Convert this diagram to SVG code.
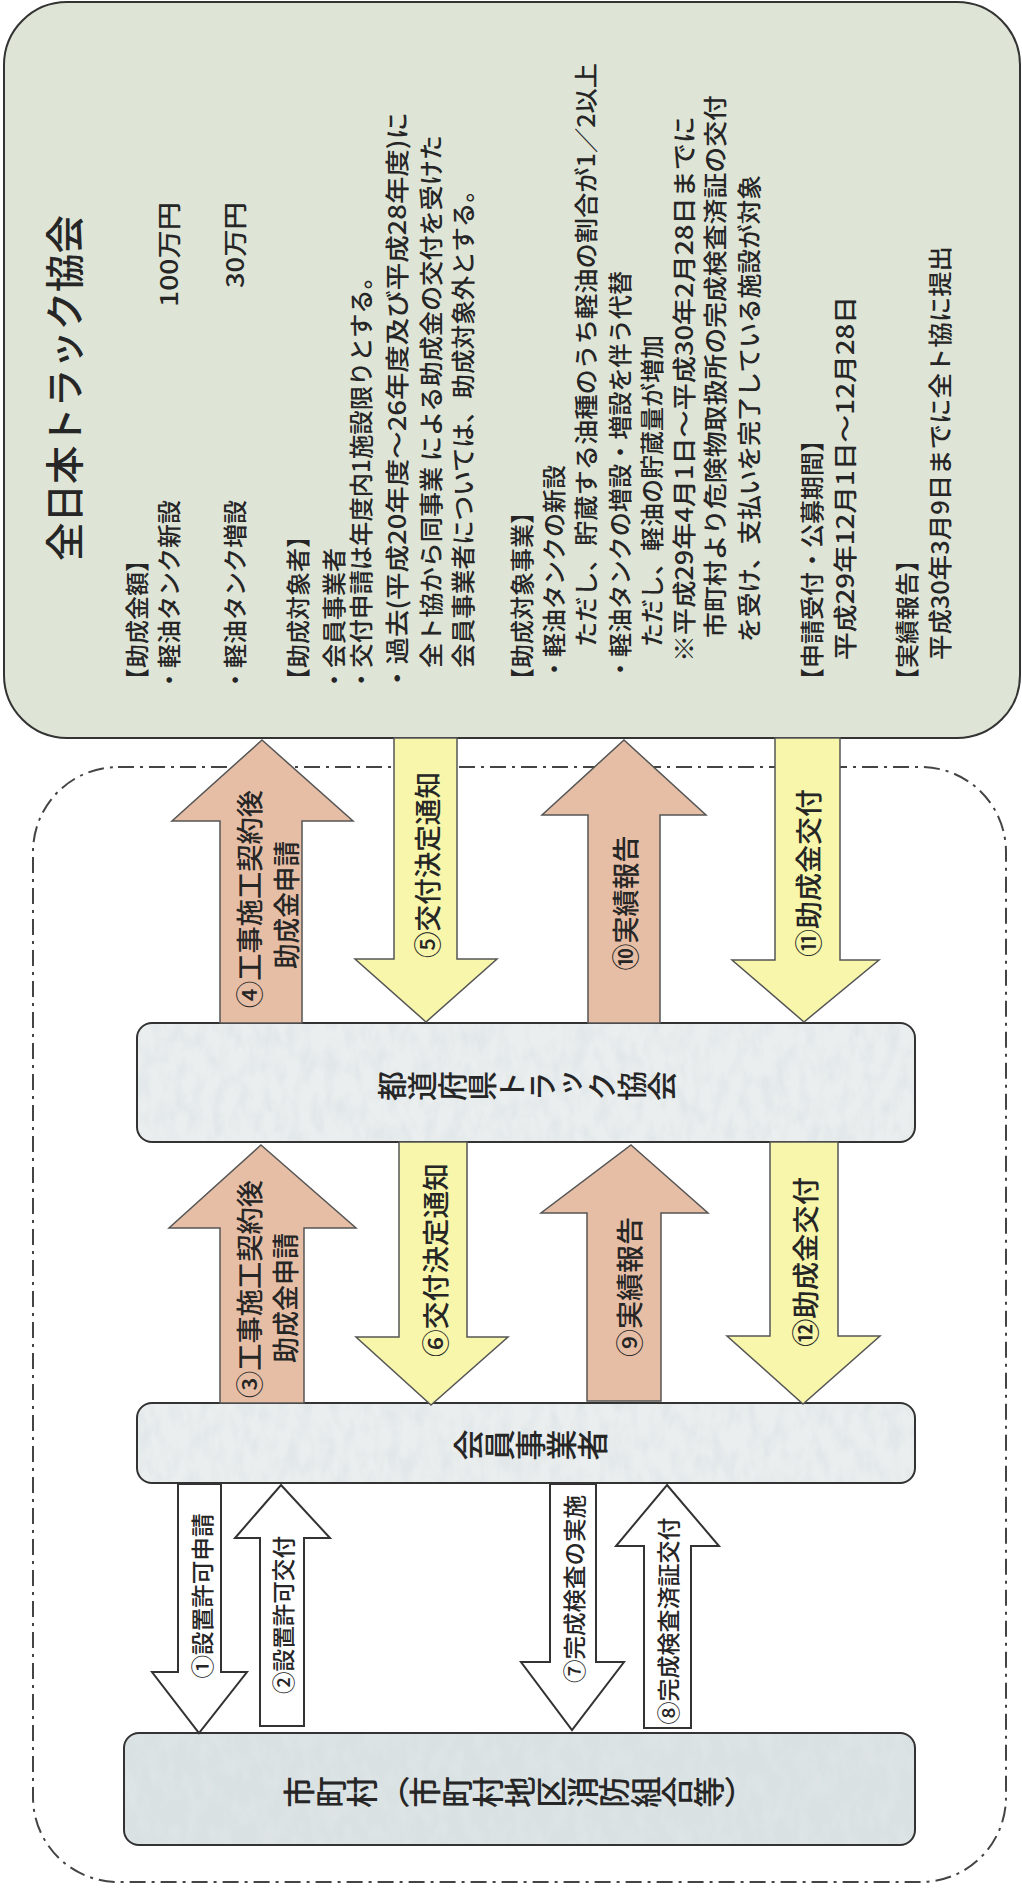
<svg xmlns="http://www.w3.org/2000/svg" width="1022" height="1888" viewBox="0 0 1022 1888">
<style>
text{font-family:"Noto Sans CJK JP","Noto Sans CJK SC",sans-serif;fill:#262626;font-weight:500}
.body{font-size:24px}
.lbl{font-size:27px}
.lbl2{font-size:23px}
.vt{writing-mode:vertical-rl;font-size:30px}
.salmon{fill:#e6bea5;stroke:#555;stroke-width:1.5}
.yellow{fill:#f7f6aa;stroke:#555;stroke-width:1.5}
.white{fill:#fff;stroke:#333;stroke-width:2}
.gfill{fill:#eaeeee}
.frame{fill:none;stroke:#333;stroke-width:2}
</style>
<defs>
<filter id="speck" x="0" y="0" width="1" height="1" filterUnits="objectBoundingBox">
<feTurbulence type="fractalNoise" baseFrequency="0.08 0.04" numOctaves="3" seed="7" result="n"/>
<feColorMatrix in="n" type="matrix" values="0 0 0 0 0.76  0 0 0 0 0.80  0 0 0 0 0.82  2.6 0 0 0 -1.0" result="s"/>
<feComposite in="s" in2="SourceGraphic" operator="in"/>
</filter>
</defs>
<rect width="1022" height="1888" fill="#ffffff"/>
<g id="scope">
<rect x="33" y="767" width="973" height="1115" rx="85" ry="85" fill="none" stroke="#444" stroke-width="2" stroke-dasharray="16 6 3 6"/>
</g>
<g id="zentokyo">
<rect x="4" y="2" width="1016" height="736" rx="63" ry="63" fill="#dee5d6" stroke="#333" stroke-width="2"/>
<g transform="translate(0,738) rotate(-90)" dominant-baseline="central">
<text x="177" y="62" style="font-size:39px" textLength="346" lengthAdjust="spacingAndGlyphs">全日本トラック協会</text>
<text class="body" x="46" y="135">【助成金額】</text>
<text class="body" x="46" y="167">・軽油タンク新設</text>
<text class="body" x="536" y="167" text-anchor="end" textLength="105" lengthAdjust="spacingAndGlyphs">100万円</text>
<text class="body" x="46" y="233">・軽油タンク増設</text>
<text class="body" x="536" y="233" text-anchor="end" textLength="86" lengthAdjust="spacingAndGlyphs">30万円</text>
<text class="body" x="46" y="296">【助成対象者】</text>
<text class="body" x="46" y="332">・会員事業者</text>
<text class="body" x="46" y="359" textLength="427" lengthAdjust="spacingAndGlyphs">・交付申請は年度内1施設限りとする。</text>
<text class="body" x="46" y="395" textLength="580" lengthAdjust="spacingAndGlyphs">・過去(平成20年度～26年度及び平成28年度)に</text>
<text class="body" x="70" y="429" textLength="533" lengthAdjust="spacingAndGlyphs">全ト協から同事業 による助成金の交付を受けた</text>
<text class="body" x="70" y="461" textLength="490" lengthAdjust="spacingAndGlyphs">会員事業者については、助成対象外とする。</text>
<text class="body" x="46" y="520">【助成対象事業】</text>
<text class="body" x="57" y="552">・軽油タンクの新設</text>
<text class="body" x="91" y="584" textLength="584" lengthAdjust="spacingAndGlyphs">ただし、貯蔵する油種のうち軽油の割合が1／2以上</text>
<text class="body" x="57" y="618" textLength="410" lengthAdjust="spacingAndGlyphs">・軽油タンクの増設・増設を伴う代替</text>
<text class="body" x="91" y="650">ただし、軽油の貯蔵量が増加</text>
<text class="body" x="76" y="682" textLength="546" lengthAdjust="spacingAndGlyphs">※平成29年4月1日～平成30年2月28日までに</text>
<text class="body" x="100" y="713" textLength="543" lengthAdjust="spacingAndGlyphs">市町村より危険物取扱所の完成検査済証の交付</text>
<text class="body" x="96" y="747" textLength="467" lengthAdjust="spacingAndGlyphs">を受け、支払いを完了している施設が対象</text>
<text class="body" x="46" y="810">【申請受付・公募期間】</text>
<text class="body" x="78" y="843" textLength="364" lengthAdjust="spacingAndGlyphs">平成29年12月1日～12月28日</text>
<text class="body" x="46" y="905">【実績報告】</text>
<text class="body" x="78" y="938" textLength="414" lengthAdjust="spacingAndGlyphs">平成30年3月9日までに全ト協に提出</text>
</g>
</g>
<g id="todofuken">
<rect class="gfill" x="137" y="1023" width="778" height="119" rx="15" ry="15"/>
<rect x="137" y="1023" width="778" height="119" rx="15" ry="15" filter="url(#speck)"/>
<rect class="frame" x="137" y="1023" width="778" height="119" rx="15" ry="15"/>
<text class="vt" transform="translate(527,1086) rotate(-90)" text-anchor="middle">都道府県トラック協会</text>
</g>
<g id="kaiin">
<rect class="gfill" x="137" y="1403" width="778" height="80" rx="15" ry="15"/>
<rect x="137" y="1403" width="778" height="80" rx="15" ry="15" filter="url(#speck)"/>
<rect class="frame" x="137" y="1403" width="778" height="80" rx="15" ry="15"/>
<text class="vt" transform="translate(530,1445) rotate(-90)" text-anchor="middle" style="font-size:31px">会員事業者</text>
</g>
<g id="shichoson">
<rect x="124" y="1733" width="791" height="112" rx="15" ry="15" fill="#d9e1e2"/>
<rect x="124" y="1733" width="791" height="112" rx="15" ry="15" filter="url(#speck)" opacity="0.6"/>
<rect class="frame" x="124" y="1733" width="791" height="112" rx="15" ry="15"/>
<text class="vt" transform="translate(520,1792) rotate(-90)" text-anchor="middle" style="font-size:31.5px">市町村（市町村地区消防組合等）</text>
</g>
<g id="connectors">
<polygon class="salmon" points="262,740 353,821 302,821 302,1023 220,1023 220,821 172,821"/>
<polygon class="yellow" points="394,738 457,738 457,959 497,959 426,1022 355,959 394,959"/>
<polygon class="salmon" points="624,740 706,815 660,815 660,1023 588,1023 588,815 542,815"/>
<polygon class="yellow" points="775,738 840,738 840,960 879,960 804,1022 732,960 775,960"/>
<polygon class="salmon" points="261,1145 356,1228 304,1228 304,1403 220,1403 220,1228 169,1228"/>
<polygon class="yellow" points="399,1142 467,1142 467,1337 508,1337 431,1405 356,1337 399,1337"/>
<polygon class="salmon" points="631,1145 708,1213 661,1213 661,1401 587,1401 587,1213 541,1213"/>
<polygon class="yellow" points="770,1142 838,1142 838,1336 880,1336 803,1404 727,1336 770,1336"/>
<polygon class="white" points="178,1484 221,1484 221,1672 247,1672 199,1733 152,1672 178,1672"/>
<polygon class="white" points="281,1485 330,1538 304,1538 304,1726 260,1726 260,1538 235,1538"/>
<polygon class="white" points="550,1484 596,1484 596,1662 624,1662 572,1730 521,1662 550,1662"/>
<polygon class="white" points="667,1485 719,1546 691,1546 691,1728 644,1728 644,1546 616,1546"/>
<g dominant-baseline="central" text-anchor="middle">
<text class="lbl" transform="translate(248,899) rotate(-90)" textLength="218" lengthAdjust="spacingAndGlyphs">④工事施工契約後</text>
<text class="lbl" transform="translate(285,905) rotate(-90)" textLength="128" lengthAdjust="spacingAndGlyphs">助成金申請</text>
<text class="lbl" transform="translate(426,865) rotate(-90)" textLength="186" lengthAdjust="spacingAndGlyphs">⑤交付決定通知</text>
<text class="lbl" transform="translate(624,903) rotate(-90)" textLength="135" lengthAdjust="spacingAndGlyphs">⑩実績報告</text>
<text class="lbl" transform="translate(807,873) rotate(-90)" textLength="168" lengthAdjust="spacingAndGlyphs">⑪助成金交付</text>
<text class="lbl" transform="translate(248,1289) rotate(-90)" textLength="218" lengthAdjust="spacingAndGlyphs">③工事施工契約後</text>
<text class="lbl" transform="translate(284,1298) rotate(-90)" textLength="130" lengthAdjust="spacingAndGlyphs">助成金申請</text>
<text class="lbl" transform="translate(434,1260) rotate(-90)" textLength="194" lengthAdjust="spacingAndGlyphs">⑥交付決定通知</text>
<text class="lbl" transform="translate(628,1287) rotate(-90)" textLength="140" lengthAdjust="spacingAndGlyphs">⑨実績報告</text>
<text class="lbl" transform="translate(804,1262) rotate(-90)" textLength="170" lengthAdjust="spacingAndGlyphs">⑫助成金交付</text>
<text class="lbl2" transform="translate(201,1596) rotate(-90)" textLength="165" lengthAdjust="spacingAndGlyphs">①設置許可申請</text>
<text class="lbl2" transform="translate(282,1615) rotate(-90)" textLength="158" lengthAdjust="spacingAndGlyphs">②設置許可交付</text>
<text class="lbl2" transform="translate(573,1589) rotate(-90)" textLength="188" lengthAdjust="spacingAndGlyphs">⑦完成検査の実施</text>
<text class="lbl2" transform="translate(667,1621) rotate(-90)" textLength="207" lengthAdjust="spacingAndGlyphs">⑧完成検査済証交付</text>
</g>
</g>
</svg>
